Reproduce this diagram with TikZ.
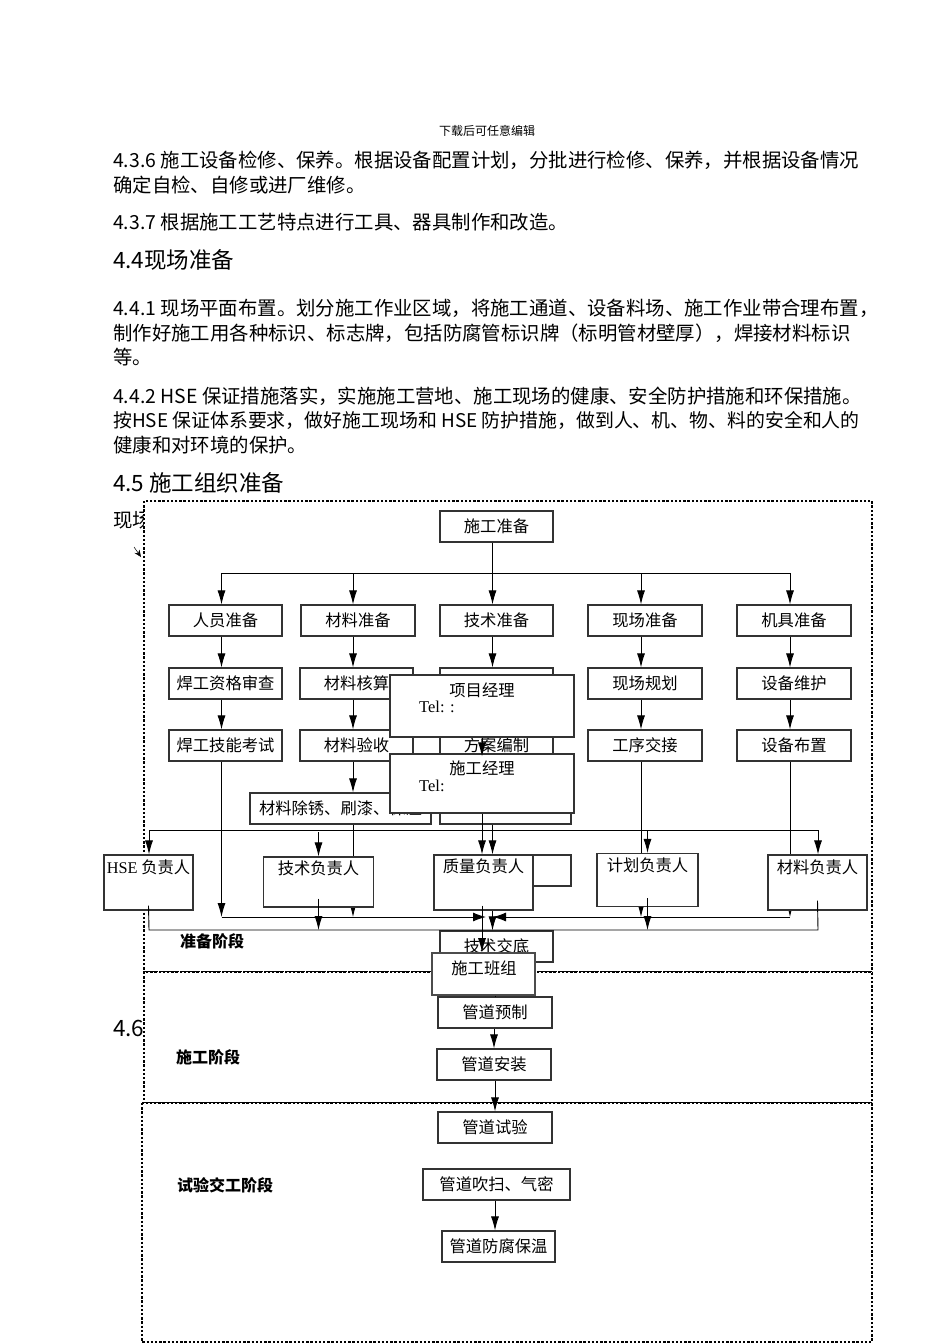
\documentclass[tikz,border=0pt]{standalone}
\usepackage{fontspec}
\setmainfont{Liberation Serif}
\newfontfamily\cjk{Noto Sans CJK SC}
\usetikzlibrary{arrows.meta,calc}
\begin{document}
\begin{tikzpicture}[x=1pt,y=-1pt,
 wh/.style 2 args={minimum width=#1pt,minimum height=#2pt},
 box/.style={draw=black!80, line width=1.1pt, fill=white, inner sep=0pt, font=\cjk\fontsize{16.3}{16}\selectfont},
 lbl/.style={inner sep=0pt, font=\cjk\fontsize{16.3}{16}\selectfont},
 arr/.style={draw=black, line width=0.9pt, -{Latex[length=14pt,width=8pt]}},
 ln/.style={draw=black, line width=0.9pt},
 frame/.style={draw=black, line width=2.4pt, dash pattern=on 2.4pt off 1.8pt, fill=white},
 body/.style={anchor=base west, inner sep=0pt, font=\cjk\fontsize{19.4}{19}\selectfont},
 head/.style={anchor=base west, inner sep=0pt, font=\cjk\fontsize{22.5}{23}\selectfont},
 stage/.style={anchor=west, inner sep=0pt, font=\cjk\bfseries\fontsize{16}{16}\selectfont}]
\fill[white] (0,0) rectangle (950,1344);
\useasboundingbox (0,0) rectangle (950,1344);

% ---------- page text ----------
\node[inner sep=0pt, font=\cjk\fontsize{12}{12}\selectfont] (hdr) at (487,131) {下载后可任意编辑};
\node[body] (p1) at (113,167) {4.3.6 施工设备检修、保养。根据设备配置计划，分批进行检修、保养，并根据设备情况};
\node[body] (p2) at (113,192) {确定自检、自修或进厂维修。};
\node[body] (p3) at (113,229) {4.3.7 根据施工工艺特点进行工具、器具制作和改造。};
\node[head] (h44) at (113,268) {4.4现场准备};
\node[body] (p4) at (113,315) {4.4.1 现场平面布置。划分施工作业区域，将施工通道、设备料场、施工作业带合理布置，};
\node[body] (p5) at (113,340) {制作好施工用各种标识、标志牌，包括防腐管标识牌（标明管材壁厚），焊接材料标识};
\node[body] (p6) at (113,364) {等。};
\node[body] (p7) at (113,403) {4.4.2 HSE 保证措施落实，实施施工营地、施工现场的健康、安全防护措施和环保措施。};
\node[body, font=\cjk\fontsize{18.9}{19}\selectfont] (p8) at (113,427) {按HSE 保证体系要求，做好施工现场和 HSE 防护措施，做到人、机、物、料的安全和人的};
\node[body] (p9) at (113,452) {健康和对环境的保护。};
\node[head] (h45) at (113,491) {4.5 施工组织准备};
\node[body] (p10) at (113,527) {现场组织};
\node[head] (h46) at (113,1036) {4.6 施工};

% ---------- stage frames ----------
\draw[frame] (144,501) rectangle (872,972);
\draw[frame] (144,972) rectangle (872,1103);
\draw[frame] (142,1103) rectangle (872,1342);
\draw[-{Stealth[length=7pt,width=6pt]}, line width=0.5pt] (134,547) -- (141,557);

\node[stage] (s1) at (180,941) {准备阶段};
\node[stage] (s2) at (176,1057) {施工阶段};
\node[stage] (s3) at (177,1185) {试验交工阶段};

% ---------- original flow ----------
\node[box, wh={113}{31}] (sgzb) at (496.5,526.5) {施工准备};
\node[box, wh={113}{31}] (ry) at (225.5,620.5) {人员准备};
\node[box, wh={114}{31}] (cl) at (358,620.5) {材料准备};
\node[box, wh={113}{31}] (js) at (496.5,620.5) {技术准备};
\node[box, wh={114}{31}] (xc) at (645,620.5) {现场准备};
\node[box, wh={114}{31}] (jj) at (794,620.5) {机具准备};

\node[box, wh={113}{31}] (hgzg) at (225.5,683.5) {焊工资格审查};
\node[box, wh={113}{31}] (clhs) at (356.5,683.5) {材料核算};
\node[box, wh={113}{31}] (js2) at (496.5,683.5) {};
\node[box, wh={114}{31}] (xcgh) at (645,683.5) {现场规划};
\node[box, wh={114}{31}] (sbwh) at (794,683.5) {设备维护};

\node[box, wh={113}{31}] (hgjn) at (225.5,745.5) {焊工技能考试};
\node[box, wh={113}{31}] (clys) at (356.5,745.5) {材料验收};
\node[box, wh={113}{31}] (fabz) at (496.5,745.5) {方案编制};
\node[box, wh={114}{31}] (gxjj) at (645,745.5) {工序交接};
\node[box, wh={114}{31}] (sbbz) at (794,745.5) {设备布置};

\node[box, wh={181}{31}] (clcx) at (340.5,808.5) {材料除锈、刷漆、保温};
\node[box, wh={131}{31}] (js4) at (505.5,808.5) {};
\node[box, wh={131}{31}] (js5) at (505.5,870.5) {};
\node[box, wh={113}{31}] (jsjd) at (496.5,946.5) {技术交底};

\coordinate (c1) at (221.5,573);
\coordinate (c2) at (353,573);
\coordinate (c3) at (492.5,573);
\coordinate (c4) at (641,573);
\coordinate (c5) at (790,573);
\coordinate (a1) at (221.5,917);
\coordinate (a2) at (353,917);
\coordinate (a4) at (641,917);
\coordinate (a5) at (790,917);
\coordinate (aL) at (486,917);
\coordinate (aR) at (493,917);

\draw[arr] (c3 |- sgzb.south) -- (c3 |- js.north);
\draw[ln] (c1) -- (c5);
\draw[arr] (c1) -- (c1 |- ry.north);
\draw[arr] (c2) -- (c2 |- cl.north);
\draw[arr] (c4) -- (c4 |- xc.north);
\draw[arr] (c5) -- (c5 |- jj.north);

\draw[arr] (c1 |- ry.south) -- (c1 |- hgzg.north);
\draw[arr] (c1 |- hgzg.south) -- (c1 |- hgjn.north);
\draw[arr] (c1 |- hgjn.south) -- (a1);
\draw[arr] (c2 |- cl.south) -- (c2 |- clhs.north);
\draw[arr] (c2 |- clhs.south) -- (c2 |- clys.north);
\draw[arr] (c2 |- clys.south) -- (c2 |- clcx.north);
\draw[arr] (c2 |- clcx.south) -- (a2);
\draw[arr] (c3 |- js.south) -- (c3 |- js2.north);
\draw[arr] (c3 |- js2.south) -- (c3 |- fabz.north);
\draw[arr] (c3 |- fabz.south) -- (c3 |- js4.north);
\draw[arr] (c3 |- js4.south) -- (c3 |- js5.north);
\draw[arr] (c3 |- js5.south) -- (c3 |- jsjd.north);
\draw[arr] (c4 |- xc.south) -- (c4 |- xcgh.north);
\draw[arr] (c4 |- xcgh.south) -- (c4 |- gxjj.north);
\draw[arr] (c4 |- gxjj.south) -- (a4);
\draw[arr] (c5 |- jj.south) -- (c5 |- sbwh.north);
\draw[arr] (c5 |- sbwh.south) -- (c5 |- sbbz.north);
\draw[arr] (c5 |- sbbz.south) -- (a5);
\draw[draw=black, line width=0.9pt, -{Latex[length=13pt,width=9pt]}] (a1) -- (aL);
\draw[draw=black, line width=0.9pt, -{Latex[length=13pt,width=9pt]}] (a5) -- (aR);

% ---------- organisation overlay ----------
\node[box, wh={184}{62}] (xmjl) at (482,706) {};
\node[lbl] (xmjlt) at (482,690) {项目经理};
\node[lbl, anchor=west, font=\fontsize{16.5}{16}\selectfont] (xmjltel) at (419,707) {Tel: :};
\node[box, wh={184}{59}] (sgjl) at (482,783.5) {};
\node[lbl] (sgjlt) at (482,768) {施工经理};
\node[lbl, anchor=west, font=\fontsize{16.5}{16}\selectfont] (sgjltel) at (419,786) {Tel:};

\node[box, wh={89}{55}] (hse) at (148.5,882.5) {};
\node[lbl] (hset) at (148.5,867) {{\rmfamily HSE} 负责人};
\node[box, wh={110}{50}] (jsfz) at (318.5,882) {};
\node[lbl] (jsfzt) at (318.5,868) {技术负责人};
\node[box, wh={99}{55}] (zl) at (483.5,882.5) {};
\node[lbl] (zlt) at (483.5,866) {质量负责人};
\node[box, wh={101}{53}] (jhfz) at (647.5,880) {};
\node[lbl] (jhfzt) at (647.5,865) {计划负责人};
\node[box, wh={99}{55}] (clfz) at (817.5,882.5) {};
\node[lbl] (clfzt) at (817.5,867) {材料负责人};
\node[box, draw=black!70, line width=1.6pt, wh={103}{42}] (sgbz) at (483.5,974) {};
\node[lbl] (sgbzt) at (484,968) {施工班组};

\coordinate (bL) at (149,830);
\coordinate (bR) at (818,830);
\coordinate (dL) at (149,930);
\coordinate (dR) at (818,930);

\draw[arr] (xmjl.south) -- ([yshift=-3pt]sgjl.north);
\draw[ln] (bL) -- (bR);
\draw[arr] (bL) -- (bL |- hse.north);
\draw[arr] ([yshift=-2pt]jsfz.north |- bL) -- (jsfz.north);
\draw[arr] (sgjl.south) -- (sgjl.south |- zl.north);
\draw[arr] (jhfz.north |- bL) -- (jhfz.north);
\draw[arr] (bR) -- (bR |- clfz.north);

\draw[ln] ([yshift=5pt]hse.south) -- (dL) -- (dR) -- ([yshift=10pt]clfz.south);
\draw[arr] ([yshift=9pt]jsfz.south) -- (jsfz.south |- dL);
\draw[arr] ([yshift=9pt]jhfz.south) -- (jhfz.south |- dL);
\draw[arr] ([yshift=5pt]sgjl.south |- zl.south) -- (sgjl.south |- sgbz.north);

% ---------- construction and test stages ----------
\node[box, wh={114}{31}] (gdyz) at (495,1012.5) {管道预制};
\node[box, wh={114}{31}] (gdaz) at (494,1064.5) {管道安装};
\node[box, wh={114}{31}] (gdsy) at (495,1127.5) {管道试验};
\node[box, wh={147}{31}] (gdcs) at (496.5,1184.5) {管道吹扫、气密};
\node[box, wh={113}{31}] (gdff) at (498.5,1246.5) {管道防腐保温};

\draw[ln] (sgbz.south -| gdyz.north) -- (gdyz.north);
\draw[arr] (gdyz.south -| gdaz.north) -- (gdaz.north);
\draw[arr] (gdaz.south -| gdsy.north) -- (gdsy.north);
\draw[arr] (gdcs.south -| 495,0) -- (495,0 |- gdff.north);
\end{tikzpicture}
\end{document}
